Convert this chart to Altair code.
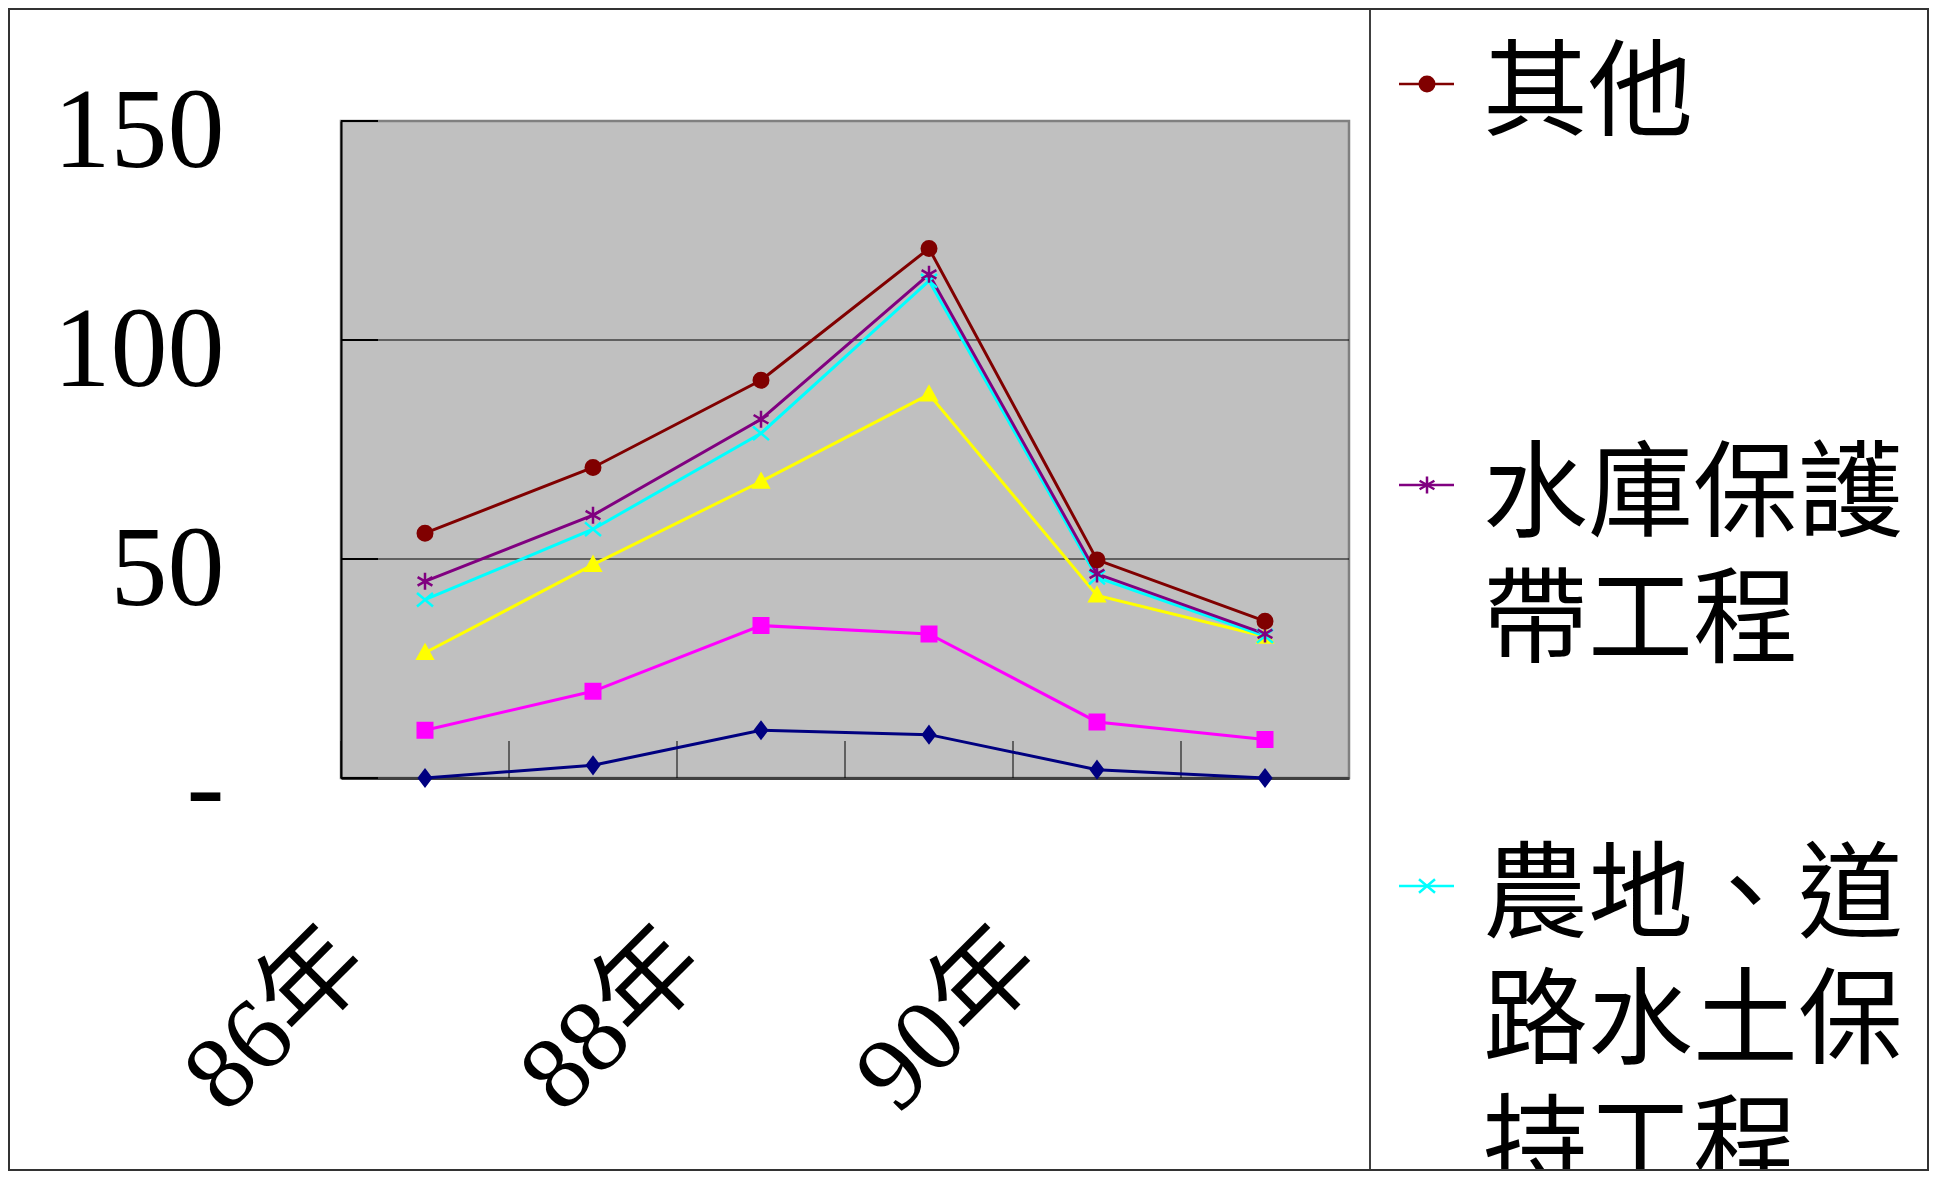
import altair as alt
import pandas as pd

# ---------------- data ----------------
years = ["86年", "87年", "88年", "89年", "90年", "91年"]
label_years = ["86年", "88年", "90年"]

# drawing order: bottom series first (cumulative values as plotted)
series = ["系列1", "系列2", "系列3", "農地、道路水土保持工程", "水庫保護帶工程", "其他"]
v_s1 = [0.0, 2.9, 10.9, 9.9, 1.9, 0.0]
v_s2 = [10.9, 19.8, 34.8, 32.9, 12.8, 8.8]
v_s3 = [28.6, 48.7, 67.7, 87.6, 41.7, 32.3]
v_farm = [40.7, 56.8, 78.7, 113.5, 45.8, 32.4]
v_reservoir = [44.9, 60.0, 81.9, 115.0, 46.6, 32.9]
v_other = [55.9, 70.9, 90.8, 120.9, 49.8, 35.8]
all_values = [v_s1, v_s2, v_s3, v_farm, v_reservoir, v_other]

colors = ["#000080", "#FF00FF", "#FFFF00", "#00FFFF", "#800080", "#800000"]
shapes = [
    "M0,-1L0.75,0L0,1L-0.75,0Z",                                 # diamond
    "square",
    "M0,-1L1,0.8L-1,0.8Z",                                      # triangle
    "M-1,-0.85L1,0.85M-1,0.85L1,-0.85",                         # x
    "M0,-1L0,1M-0.87,-0.5L0.87,0.5M-0.87,0.5L0.87,-0.5",         # asterisk
    "circle",
]
sizes = [256, 210, 225, 256, 289, 210]

y_ticks = [0, 50, 100, 150]
grid_vals = [50, 100]

# legend (top to bottom, as visible)
legend_names = ["其他", "水庫保護帶工程", "農地、道路水土保持工程"]


def wrap(s, n=4):
    return "\n".join(s[i:i + n] for i in range(0, len(s), n))


rows = []
for name, vals in zip(series, all_values):
    for yr, v in zip(years, vals):
        rows.append({"series": name, "year": yr, "value": v})
df = pd.DataFrame(rows)

# ---------------- layout constants ----------------
W, H = 1008, 657
PAD = {"left": 333, "top": 113, "right": 580, "bottom": 393}
TOTAL_W = PAD["left"] + W + PAD["right"]
TOTAL_H = PAD["top"] + H + PAD["bottom"]

serif = "Liberation Serif"
mixed = "Liberation Serif, Noto Sans CJK TC"
cjk = "Noto Sans CJK TC"

yscale = alt.Scale(domain=[0, 150], nice=False, zero=True)
xscale = alt.Scale(type="band", domain=years, paddingInner=0, paddingOuter=0)

yaxis = alt.Axis(
    values=y_ticks, grid=False, ticks=False, tickSize=0,
    domainColor="black", domainWidth=2,
    labelFont=serif, labelFontSize=114, labelColor="black",
    labelPadding=117, labelOffset=11, labelFlush=False, labelOverlap=False,
    labelExpr="datum.value == 0 ? '-' : datum.label", title=None,
)
xaxis = alt.Axis(
    values=label_years, grid=False, ticks=False, tickSize=0,
    domainColor="#404040", domainWidth=3,
    labelAngle=-45, labelAlign="right", labelBaseline="middle",
    labelFont=mixed, labelFontSize=104, labelColor="black", labelLimit=1000,
    labelPadding=168, labelOffset=-74, labelOverlap=False, title=None,
)

X = alt.X("year:N", scale=xscale, axis=xaxis, sort=years)
Y = alt.Y("value:Q", scale=yscale, axis=yaxis)

grid = alt.Chart(pd.DataFrame({"value": grid_vals})).mark_rule(
    color="black", strokeWidth=1
).encode(y=Y)

ytick = alt.Chart(pd.DataFrame({"value": y_ticks})).mark_rule(
    color="black", strokeWidth=2
).encode(y=Y, x=alt.value(0), x2=alt.value(37))

xtick = alt.Chart(pd.DataFrame({"year": years})).mark_rule(
    color="black", strokeWidth=1
).encode(
    x=alt.X("year:N", scale=xscale, axis=xaxis, sort=years, bandPosition=0),
    y=alt.value(H - 37), y2=alt.value(H),
)

lines = alt.Chart(df).mark_line(strokeWidth=3).encode(
    x=X, y=Y,
    color=alt.Color("series:N", scale=alt.Scale(domain=series, range=colors), legend=None),
    detail="series:N",
)

points = alt.Chart(df).mark_point(filled=True, opacity=1, strokeWidth=2.5).encode(
    x=X, y=Y,
    shape=alt.Shape("series:N", scale=alt.Scale(domain=series, range=shapes), legend=None),
    fill=alt.Fill("series:N", scale=alt.Scale(domain=series, range=colors), legend=None),
    stroke=alt.Stroke("series:N", scale=alt.Scale(domain=series, range=colors), legend=None),
    size=alt.Size("series:N", scale=alt.Scale(type="ordinal", domain=series, range=sizes), legend=None),
)

# ---------------- legend & frame (drawn outside the plot area) ----------------
layers = [grid, ytick, xtick, lines, points]

LEG_LINE_X0, LEG_LINE_X1, LEG_MARK_X, LEG_TEXT_X = 1058, 1113, 1086, 1142
LEG_STEP = 401
LEG_MARK_Y0 = -37
LEG_TEXT_Y0 = -77

for i, name in enumerate(legend_names):
    k = series.index(name)
    c = colors[k]
    ldf = pd.DataFrame({"label": [wrap(name)]})
    my = LEG_MARK_Y0 + i * LEG_STEP
    ty = LEG_TEXT_Y0 + i * LEG_STEP
    layers.append(
        alt.Chart(ldf).mark_rule(color=c, strokeWidth=2.5).encode(
            x=alt.value(LEG_LINE_X0), x2=alt.value(LEG_LINE_X1), y=alt.value(my)
        )
    )
    layers.append(
        alt.Chart(ldf).mark_point(
            filled=True, opacity=1, strokeWidth=2.5, shape=shapes[k], size=sizes[k],
            fill=c, stroke=c,
        ).encode(x=alt.value(LEG_MARK_X), y=alt.value(my))
    )
    layers.append(
        alt.Chart(ldf).mark_text(
            align="left", baseline="top", font=cjk, fontSize=105,
            lineHeight=126, lineBreak="\n", color="black",
        ).encode(x=alt.value(LEG_TEXT_X), y=alt.value(ty), text="label:N")
    )

frame_df = pd.DataFrame({"k": [0]})
border = alt.Chart(frame_df).mark_rect(
    fillOpacity=0, stroke="#333333", strokeWidth=2
).encode(
    x=alt.value(-PAD["left"] + 1), x2=alt.value(TOTAL_W - PAD["left"] - 1),
    y=alt.value(-PAD["top"] + 1), y2=alt.value(TOTAL_H - PAD["top"] - 1),
)
divider = alt.Chart(frame_df).mark_rule(color="black", strokeWidth=1.5).encode(
    x=alt.value(1029), y=alt.value(-PAD["top"] + 1), y2=alt.value(TOTAL_H - PAD["top"] - 1)
)
layers += [divider, border]

chart = alt.layer(*layers).properties(
    width=W, height=H,
    padding=PAD,
    autosize=alt.AutoSizeParams(type="none"),
    background="white",
).configure_view(
    fill="#C0C0C0", stroke="#808080", strokeWidth=2.5
)

chart.save("out.html", embed_options={"renderer": "svg", "actions": False})
